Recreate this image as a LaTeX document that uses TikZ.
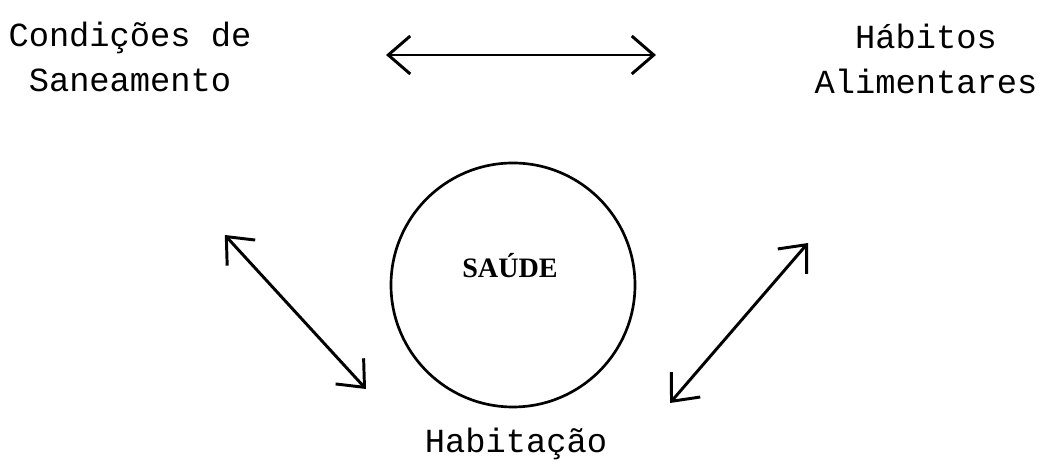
\documentclass[tikz,border=0pt]{standalone}
\usepackage{fontspec}
\usepackage{tikz}
\usetikzlibrary{arrows.meta}
\newfontfamily\typefont{Liberation Mono}
\newfontfamily\titlefont{Liberation Serif}

\begin{document}
\begin{tikzpicture}[
        label text/.style={font=\typefont\fontsize{24}{32}\selectfont, align=center, inner sep=0pt},
        link/.style={line width=2.1pt, {Straight Barb[length=5.5mm, width=9.5mm, line width=2.1pt]}-{Straight Barb[length=5.5mm, width=9.5mm, line width=2.1pt]}}
    ]
        \useasboundingbox (0,0) rectangle (26.025,11.725);

        % Fatores em volta
        \node[label text] (saneamento) at (3.25, 10.29) {Condições de\\Saneamento};
        \node[label text] (habitos) at (23.15, 10.24) {Hábitos\\Alimentares};
        \node[label text] (habitacao) at (12.9, 0.62) {Habitação};

        % Circulo central
        \node[draw, circle, line width=1.9pt, minimum size=6.1cm, inner sep=0pt] (saude) at (12.825, 4.6) {};
        \node[font=\titlefont\bfseries\fontsize{20}{24}\selectfont, inner sep=0pt] (saudetext) at (12.75, 5.08) {SAÚDE};

        % Pontas das setas
        \coordinate (topleft) at (9.65, 10.35);
        \coordinate (topright) at (16.4, 10.35);
        \coordinate (leftup) at (5.62, 5.85);
        \coordinate (leftdown) at (9.15, 2.0);
        \coordinate (rightup) at (20.2, 5.65);
        \coordinate (rightdown) at (16.75, 1.65);

        \draw[link] (topleft) -- (topright);
        \draw[link] (leftup) -- (leftdown);
        \draw[link] (rightup) -- (rightdown);
    \end{tikzpicture}
\end{document}
